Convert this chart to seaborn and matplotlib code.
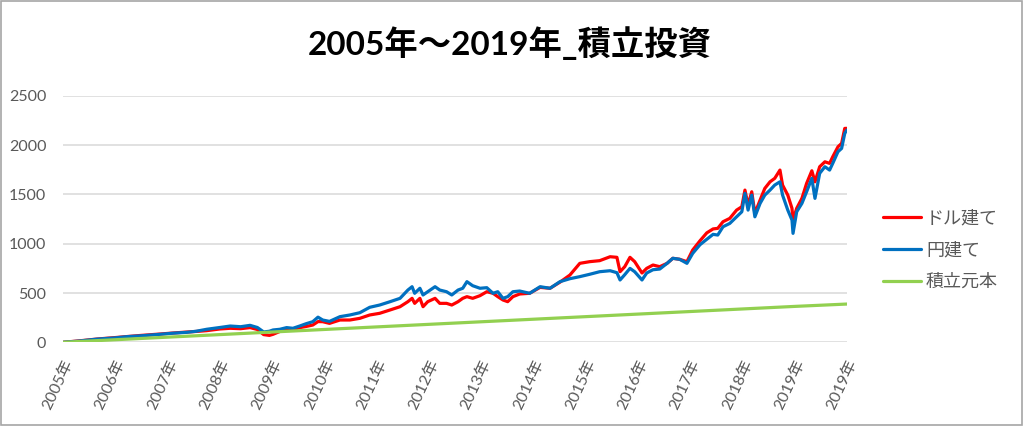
"""Reproduce the 2005-2019 accumulation investment chart (dollar vs yen basis)."""

import matplotlib
matplotlib.use("Agg")

import matplotlib.pyplot as plt
import numpy as np
import pandas as pd
import seaborn as sns
from matplotlib.patches import Rectangle

TITLE = "2005年～2019年_積立投資"

# x tick labels, one per label interval of the category axis
tick_labels = [f"{y}年" for y in range(2005, 2019)] + ["2019年", "2019年"]

# sample points (x = label intervals elapsed since start)
period = [
    0.0, 0.3, 0.65, 1.0, 1.22, 1.5, 1.86, 2.1, 2.37, 2.55,
    2.75, 3.0, 3.2, 3.4, 3.58, 3.72, 3.84, 3.95, 4.02, 4.15,
    4.28, 4.4, 4.53, 4.65, 4.78, 4.88, 4.97, 5.1, 5.3, 5.49,
    5.68, 5.87,
    6.06, 6.26, 6.45, 6.6, 6.68, 6.73, 6.83, 6.89, 6.98, 7.12,
    7.21, 7.34, 7.44, 7.56, 7.65, 7.73, 7.84, 7.98, 8.11, 8.23,
    8.32, 8.42, 8.51, 8.61, 8.74,
    8.93, 9.13, 9.32, 9.51, 9.7, 9.89, 10.08, 10.27, 10.47, 10.6,
    10.66, 10.75, 10.85, 10.94, 11.08, 11.17, 11.29, 11.42, 11.56, 11.67,
    11.8, 11.94, 12.05, 12.19, 12.32, 12.44, 12.53, 12.63, 12.76, 12.89,
    12.99, 13.05, 13.11, 13.18, 13.24, 13.34, 13.43, 13.53, 13.62, 13.72,
    13.77, 13.87, 13.95, 13.97, 14.04, 14.14, 14.23, 14.33, 14.39, 14.48,
    14.58, 14.67, 14.73, 14.83, 14.9, 14.96, 15.0,
]

# ドル建て
usd_value = [
    0, 14, 33, 48, 58, 70, 84, 94, 104, 110,
    118, 135, 142, 138, 149, 130, 78, 70, 81, 110,
    132, 128, 149, 160, 175, 210, 209, 192, 226, 226,
    243, 277,
    294, 328, 361, 412, 446, 395, 446, 361, 412, 446,
    395, 395, 378, 412, 446, 463, 446, 473, 513, 497,
    463, 429, 412, 463, 490,
    497, 557, 548, 610, 682, 801, 818, 828, 868, 862,
    716, 767, 862, 818, 703, 750, 784, 767, 801, 852,
    842, 818, 936, 1030, 1110, 1150, 1156, 1223, 1257, 1341,
    1375, 1544, 1392, 1527, 1308, 1443, 1561, 1628, 1663, 1747,
    1595, 1493, 1359, 1240, 1359, 1460, 1612, 1740, 1628, 1781,
    1831, 1815, 1882, 1983, 2018, 2170, 2170,
]

# 円建て
jpy_value = [
    0, 12, 32, 45, 57, 66, 81, 92, 101, 112,
    132, 150, 165, 158, 172, 150, 105, 112, 125, 132,
    149, 142, 165, 188, 209, 255, 226, 212, 260, 277,
    300, 355,
    378, 412, 446, 530, 564, 497, 548, 480, 513, 564,
    530, 513, 480, 530, 548, 615, 574, 548, 554, 497,
    513, 446, 463, 513, 520,
    497, 564, 548, 615, 645, 666, 690, 716, 726, 706,
    632, 686, 750, 716, 632, 703, 736, 743, 801, 852,
    842, 801, 902, 990, 1045, 1095, 1088, 1172, 1206, 1273,
    1324, 1511, 1341, 1493, 1273, 1409, 1493, 1544, 1595, 1628,
    1493, 1341, 1240, 1105, 1324, 1409, 1527, 1663, 1460, 1714,
    1781, 1747, 1815, 1933, 1967, 2119, 2153,
]

# 積立元本, read at each label
principal_period = list(range(16))
principal_value = [0, 26, 52, 78, 104, 130, 156, 182, 208, 234, 260, 286, 312, 338, 364, 388]

SERIES_NAMES = ["ドル建て", "円建て", "積立元本"]
PALETTE = {"ドル建て": "#FF0000", "円建て": "#0070C0", "積立元本": "#92D050"}


def build_frame() -> pd.DataFrame:
    """Stack the three series into one long table for seaborn."""
    wide = pd.DataFrame({"period": period, "ドル建て": usd_value, "円建て": jpy_value})
    long = wide.melt(id_vars="period", var_name="series", value_name="value")
    principal = pd.DataFrame({"period": principal_period, "value": principal_value,
                              "series": "積立元本"})
    return pd.concat([long, principal], ignore_index=True)


def plot_chart(df: pd.DataFrame, output_path: str) -> None:
    sns.set_theme(style="white")
    plt.rcParams["font.family"] = ["Lato", "Noto Sans CJK JP", "DejaVu Sans"]

    fig = plt.figure(figsize=(10.24, 4.26), dpi=100)
    ax = fig.add_axes([0.0615, 0.1965, 0.7655, 0.5785])

    sns.lineplot(data=df, x="period", y="value", hue="series", hue_order=SERIES_NAMES,
                 palette=PALETTE, estimator=None, linewidth=2.3, ax=ax, legend=True)

    ax.set_xlim(0, len(tick_labels) - 1)
    ax.set_ylim(0, 2500)
    ax.set_yticks(np.arange(0, 2501, 500))
    ax.set_xticks(np.arange(len(tick_labels)))
    ax.set_xticklabels(tick_labels, rotation=65, ha="right", va="top", rotation_mode="anchor")
    ax.tick_params(axis="y", length=0, labelsize=11.5, labelcolor="#595959", pad=12)
    ax.tick_params(axis="x", length=0, labelsize=11.5, labelcolor="#595959", pad=11)
    ax.yaxis.grid(True, color="#D9D9D9", linewidth=1.1)
    ax.set_axisbelow(True)
    for side in ax.spines.values():
        side.set_visible(False)
    ax.set_xlabel("")
    ax.set_ylabel("")

    handles, labels = ax.get_legend_handles_labels()
    ax.legend_.remove()
    leg = fig.legend(handles, labels, loc="center left", bbox_to_anchor=(0.862, 0.413),
                     frameon=False, fontsize=13, handlelength=2.1, handletextpad=0.3,
                     labelspacing=0.85, borderpad=0, borderaxespad=0)
    for text in leg.get_texts():
        text.set_color("#595959")
    for line in leg.get_lines():
        line.set_linewidth(2.3)

    fig.text(0.498, 0.899, TITLE, ha="center", va="center", fontsize=24, fontweight="bold",
             color="#000000")

    fig.patches.append(Rectangle((0.001, 0.002), 0.997, 0.995, transform=fig.transFigure,
                                 fill=False, edgecolor="#A6A6A6", linewidth=1.2))

    fig.savefig(output_path, dpi=100)
    plt.close(fig)


if __name__ == "__main__":
    plot_chart(build_frame(), "out.png")
